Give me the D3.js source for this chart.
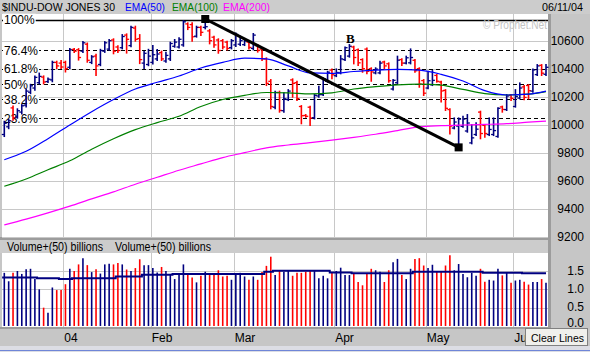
<!DOCTYPE html>
<html>
<head>
<meta charset="utf-8">
<script src="https://cdn.jsdelivr.net/npm/d3@7"></script>
<style>
  body { margin: 0; background: #c6c6c6; }
  svg { display: block; font-family: Arial, "Liberation Sans", sans-serif; }
</style>
</head>
<body>
<div id="chart"></div>
<script>
// daily bars, Dec 11 2003 .. Jun 10 2004 (index based)
const opens = [9930,9985,10120,10055,10090,10140,10232,10262,10300,10340,10308,10320,10445,10440,10445,10410,10538,10535,10525,10575,
  10445,10490,10430,10525,10540,10605,10555,10550,10640,10565,10690,10615,10440,10430,10445,10470,10515,10455,10470,10560,
  10555,10570,10720,10715,10632,10695,10695,10670,10625,10605,10600,10590,10550,10570,10575,10572,10590,10545,10565,10540,
  10470,10310,10125,10230,10100,10180,10320,10300,10130,10066,10125,10050,10205,10215,10310,10390,10350,10370,10465,10490,
  10555,10535,10465,10540,10400,10370,10370,10448,10435,10255,10300,10465,10440,10442,10460,10400,10315,10262,10285,10352,
  10305,10245,10108,9976,9990,9988,9955,9870,9930,10090,9995,9930,9930,9916,10127,10108,10210,10130,10190,10270,
  10280,10240,10358,10424,10360];
const highs = [10021,10035,10130,10110,10140,10250,10285,10345,10365,10345,10330,10450,10450,10455,10450,10540,10540,10540,10590,10580,
  10490,10500,10535,10590,10605,10610,10560,10640,10645,10700,10700,10640,10520,10535,10562,10533,10522,10514,10586,10605,
  10617,10740,10724,10724,10700,10700,10755,10676,10629,10610,10605,10593,10605,10652,10629,10605,10593,10648,10569,10545,
  10474,10319,10236,10236,10224,10247,10324,10307,10133,10069,10129,10212,10271,10331,10378,10395,10395,10490,10552,10569,
  10557,10538,10467,10545,10403,10403,10450,10450,10438,10319,10486,10467,10486,10538,10462,10403,10319,10378,10383,10355,
  10307,10247,10110,10045,10045,10057,10069,9998,10010,10093,9998,10045,10045,10117,10129,10212,10212,10247,10295,10276,
  10283,10395,10426,10426,10426];
const lows = [9919,9975,10035,10050,10080,10130,10225,10250,10295,10295,10305,10310,10405,10405,10380,10405,10520,10465,10520,10450,
  10440,10355,10425,10520,10535,10510,10520,10545,10515,10560,10600,10440,10405,10425,10438,10462,10462,10450,10462,10557,
  10552,10564,10683,10600,10629,10640,10688,10581,10557,10514,10545,10538,10545,10562,10569,10569,10545,10538,10522,10462,
  10283,10117,10117,10093,10093,10176,10200,10176,10010,10057,9998,10045,10200,10212,10307,10331,10347,10367,10462,10486,
  10438,10426,10378,10367,10314,10367,10367,10403,10307,10252,10295,10426,10438,10438,10378,10271,10212,10260,10283,10307,
  10165,10105,9938,9974,9843,9986,9950,9867,9926,9903,9914,9926,9926,9914,10093,10105,10176,10129,10188,10181,
  10188,10236,10355,10355,10355];
const closes = [10010,10028,10050,10100,10135,10240,10278,10338,10345,10305,10325,10445,10420,10412,10400,10535,10525,10480,10585,10460,
  10485,10420,10530,10585,10600,10525,10530,10630,10610,10695,10610,10465,10510,10490,10500,10505,10470,10495,10580,10590,
  10610,10735,10695,10628,10695,10660,10700,10600,10570,10530,10555,10545,10600,10645,10600,10598,10552,10640,10530,10470,
  10295,10130,10230,10102,10185,10240,10295,10186,10064,10060,10048,10210,10215,10328,10375,10357,10373,10470,10550,10560,
  10480,10442,10400,10381,10377,10397,10440,10420,10314,10317,10461,10440,10478,10480,10385,10290,10225,10314,10317,10310,
  10241,10117,9990,10019,10040,10040,10012,9906,9968,9937,9937,9966,9958,10117,10109,10205,10188,10202,10262,10195,
  10243,10391,10420,10368,10410];
// volume, billions of shares
const volumes = [1.45,1.22,1.45,1.50,1.42,1.55,1.56,1.28,1.00,0.50,0.36,1.05,0.98,0.98,1.14,1.56,1.50,1.68,1.85,1.66,
  1.47,1.55,1.43,1.68,1.70,1.68,1.72,1.68,1.54,1.50,1.58,1.82,1.66,1.66,1.58,1.46,1.61,1.50,1.42,1.28,
  1.39,1.68,1.42,1.32,1.19,1.37,1.48,1.39,1.44,1.52,1.35,1.37,1.26,1.44,1.45,1.35,1.26,1.35,1.26,1.47,
  1.64,1.89,1.39,1.50,1.48,1.50,1.37,1.45,1.45,1.48,1.50,1.52,1.30,1.37,1.30,1.45,1.50,1.59,1.39,1.39,
  1.45,1.20,1.11,1.42,1.56,1.52,1.48,1.20,1.52,1.74,1.83,1.39,1.28,1.56,1.83,1.85,1.65,1.58,1.67,1.48,
  1.48,1.65,1.93,1.52,1.69,1.42,1.33,1.45,1.37,1.56,1.21,1.26,1.24,1.56,1.38,1.45,1.18,1.24,1.26,1.21,
  1.13,1.20,1.20,1.28,1.18];
// 50 day average volume (step line)
const volAvgStart = [0, 8, 13, 16, 26, 32, 39, 60, 62, 75, 80, 94, 110, 119];
const volAvgValue = [1.32, 1.30, 1.28, 1.30, 1.35, 1.40, 1.42, 1.48, 1.51, 1.46, 1.44, 1.48, 1.45, 1.44];

// moving averages, read at every 5th bar
const emaIdx = [0,5,10,15,20,25,30,35,40,45,50,55,60,65,70,75,80,85,90,95,100,105,110,115,120,124];
const ema50 = [9750,9810,9900,9998,10093,10180,10255,10303,10348,10405,10445,10475,10470,10420,10370,10367,10380,10390,10395,10390,10360,10312,10243,10212,10218,10240];
const ema100 = [9560,9612,9678,9742,9825,9900,9965,10015,10060,10130,10180,10210,10230,10228,10220,10228,10255,10272,10285,10290,10282,10252,10222,10212,10218,10236];
const ema200 = [9284,9325,9370,9418,9470,9520,9575,9625,9675,9720,9765,9800,9835,9855,9872,9890,9910,9932,9958,9985,9993,9998,10002,10007,10018,10026];

const monthLabels = ["04", "Feb", "Mar", "Apr", "May", "Jun"];
const monthStart = [14, 34, 53, 76, 97, 117];

const priceTicks = [10600, 10400, 10200, 10000, 9800, 9600, 9400, 9200];
const volTicks = [0, 0.5, 1.0, 1.5];

// fibonacci retracement between Feb high and May low
const fibHigh = 10750, fibLow = 9830;
const fibLevels = [1, 0.764, 0.618, 0.5, 0.382, 0.236];
const fibLabels = ["100%", "76.4%", "61.8%", "50%", "38.2%", "23.6%"];

// trend line end points [bar index, price]
const trendFrom = [46, 10755];
const trendTo = [104, 9838];
const peakLabel = { idx: 79, price: 10569, text: "B" };

const W = 590, H = 352;
const upColor = '#000080', downColor = '#ff0000', gridColor = '#c8c8c8';

const svg = d3.select('#chart').append('svg')
  .attr('width', W).attr('height', H);

const x = d3.scaleLinear().domain([0, 124]).range([4.3, 546]);
const step = x(1) - x(0);
const y = d3.scaleLinear().domain([9200, 10600]).range([236.7, 40.7]);
const vy = d3.scaleLinear().domain([0, 1.5]).range([326, 271]);

// squeeze a label into the width it takes in the original
function fit(sel, w) {
  sel.attr('textLength', w).attr('lengthAdjust', 'spacingAndGlyphs');
}

// --- backgrounds ---
svg.append('rect').attr('width', W).attr('height', H).attr('fill', '#c6c6c6');
svg.append('rect').attr('x', 0).attr('y', 0).attr('width', W).attr('height', 14).attr('fill', '#cccccc');
svg.append('rect').attr('x', 548).attr('y', 14).attr('width', 3).attr('height', 314).attr('fill', '#9c9c9c');
svg.append('rect').attr('x', 0).attr('y', 237).attr('width', 551).attr('height', 3).attr('fill', '#9c9c9c');
svg.append('rect').attr('x', 0).attr('y', 240).attr('width', 548).attr('height', 13).attr('fill', '#cccccc');
svg.append('rect').attr('x', 2).attr('y', 14).attr('width', 546).attr('height', 223).attr('fill', '#ffffff');
svg.append('rect').attr('x', 2).attr('y', 253).attr('width', 546).attr('height', 74).attr('fill', '#ffffff');
svg.append('rect').attr('x', 0).attr('y', 327).attr('width', 551).attr('height', 2).attr('fill', '#9c9c9c');
svg.append('rect').attr('x', 0).attr('y', 346).attr('width', W).attr('height', 6).attr('fill', '#dcdde4');
svg.append('line').attr('x1', 0).attr('x2', W).attr('y1', 350.5).attr('y2', 350.5)
  .attr('stroke', '#6f86d8').attr('stroke-width', 1);

// --- price panel ---
const price = svg.append('g');

price.selectAll('.hgrid').data(priceTicks).join('line')
  .attr('x1', 2).attr('x2', 548)
  .attr('y1', d => Math.round(y(d)) + 0.5).attr('y2', d => Math.round(y(d)) + 0.5)
  .attr('stroke', gridColor);
price.selectAll('.vgrid').data(monthStart).join('line')
  .attr('x1', d => Math.round(x(d) - step / 2) + 0.5).attr('x2', d => Math.round(x(d) - step / 2) + 0.5)
  .attr('y1', 14).attr('y2', 237)
  .attr('stroke', gridColor);

const fibY = p => y(fibLow + p * (fibHigh - fibLow));
price.selectAll('.fib').data(fibLevels).join('line')
  .attr('x1', 2).attr('x2', 548)
  .attr('y1', d => Math.round(fibY(d)) + 0.5).attr('y2', d => Math.round(fibY(d)) + 0.5)
  .attr('stroke', '#000')
  .attr('stroke-width', d => d === 1 ? 1.5 : 1)
  .attr('stroke-dasharray', d => d === 1 ? null : '4,3');

const fibText = price.selectAll('.fibLabel').data(fibLevels).join('g');
fibText.append('rect').attr('class', 'bg').attr('fill', '#fff');
fibText.append('text')
  .attr('x', 4)
  .attr('y', d => fibY(d) + 4.5)
  .attr('font-size', 12)
  .attr('fill', '#000')
  .text((d, i) => fibLabels[i]);
fibText.each(function(d) {
  const g = d3.select(this);
  const w = g.select('text').node().getComputedTextLength();
  g.select('rect').attr('x', 3).attr('y', fibY(d) - 6).attr('width', w + 2).attr('height', 12);
});

// OHLC bars
const bars = price.selectAll('.bar').data(d3.range(opens.length)).join('g')
  .attr('stroke', i => closes[i] >= opens[i] ? upColor : downColor);
bars.append('line')
  .attr('x1', i => x(i)).attr('x2', i => x(i))
  .attr('y1', i => y(highs[i]) - 1).attr('y2', i => y(lows[i]) + 1)
  .attr('stroke-width', 1.6);
bars.append('line')
  .attr('x1', i => x(i) - 2.5).attr('x2', i => x(i))
  .attr('y1', i => y(opens[i])).attr('y2', i => y(opens[i]))
  .attr('stroke-width', 1.3);
bars.append('line')
  .attr('x1', i => x(i)).attr('x2', i => x(i) + 2.5)
  .attr('y1', i => y(closes[i])).attr('y2', i => y(closes[i]))
  .attr('stroke-width', 1.3);

// moving averages
const emaLine = d3.line().x((d, k) => x(emaIdx[k])).y(d => y(d)).curve(d3.curveMonotoneX);
[[ema200, '#ff00ff'], [ema100, '#008000'], [ema50, '#0000ff']].forEach(([vals, col]) => {
  price.append('path').datum(vals)
    .attr('d', emaLine)
    .attr('fill', 'none')
    .attr('stroke', col)
    .attr('stroke-width', 1.2);
});

// trend line with end markers
price.append('line')
  .attr('x1', x(trendFrom[0])).attr('y1', y(trendFrom[1]))
  .attr('x2', x(trendTo[0])).attr('y2', y(trendTo[1]))
  .attr('stroke', '#000').attr('stroke-width', 3);
price.selectAll('.marker').data([trendFrom, trendTo]).join('rect')
  .attr('x', d => x(d[0]) - 4).attr('y', d => y(d[1]) - 4)
  .attr('width', 8).attr('height', 8)
  .attr('fill', '#000');

price.append('text')
  .attr('x', x(peakLabel.idx) + 1)
  .attr('y', y(peakLabel.price) - 2)
  .attr('text-anchor', 'middle')
  .attr('font-family', '"Liberation Serif", "DejaVu Serif", serif')
  .attr('font-weight', 'bold')
  .attr('font-size', 13)
  .text(peakLabel.text);

price.append('text')
  .attr('x', 483).attr('y', 29)
  .attr('font-size', 12)
  .attr('fill', '#c4c4c4')
  .text('\u00A9 Prophet.Net')
  .call(fit, 64);

// price axis
svg.selectAll('.pLabel').data(priceTicks).join('text')
  .attr('x', 584).attr('y', d => y(d) + 4.5)
  .attr('text-anchor', 'end')
  .attr('font-size', 12)
  .attr('fill', '#000')
  .text(d => d);

// header
const headerText = ['$INDU-DOW JONES 30', 'EMA(50)', 'EMA(100)', 'EMA(200)'];
const headerColor = ['#000', '#0000ff', '#008000', '#ff00ff'];
const headerX = [2, 125, 172, 223];
const headerW = [113, 40, 46, 47];
svg.selectAll('.hdr').data(headerText).join('text')
  .attr('x', (d, i) => headerX[i]).attr('y', 11)
  .attr('font-size', 11)
  .attr('fill', (d, i) => headerColor[i])
  .attr('textLength', (d, i) => headerW[i])
  .attr('lengthAdjust', 'spacingAndGlyphs')
  .text(d => d);
svg.append('text')
  .attr('x', 542).attr('y', 11)
  .attr('font-size', 11.5)
  .text('06/11/04')
  .call(fit, 41);

// --- volume panel ---
const vol = svg.append('g');
vol.selectAll('.vh').data(volTicks.slice(1)).join('line')
  .attr('x1', 2).attr('x2', 548)
  .attr('y1', d => Math.round(vy(d)) + 0.5).attr('y2', d => Math.round(vy(d)) + 0.5)
  .attr('stroke', gridColor);
vol.selectAll('.vv').data(monthStart).join('line')
  .attr('x1', d => Math.round(x(d) - step / 2) + 0.5).attr('x2', d => Math.round(x(d) - step / 2) + 0.5)
  .attr('y1', 253).attr('y2', 327)
  .attr('stroke', gridColor);

vol.selectAll('.vbar').data(volumes).join('line')
  .attr('x1', (d, i) => x(i)).attr('x2', (d, i) => x(i))
  .attr('y1', d => vy(d)).attr('y2', vy(0))
  .attr('stroke', (d, i) => closes[i] >= opens[i] ? upColor : downColor)
  .attr('stroke-width', 1.6);

const avgPts = [];
volAvgStart.forEach((s, k) => {
  const e = k < volAvgStart.length - 1 ? volAvgStart[k + 1] : 124.5;
  avgPts.push([x(s) - step / 2, vy(volAvgValue[k])]);
  avgPts.push([x(e) - step / 2, vy(volAvgValue[k])]);
});
vol.append('path')
  .attr('d', d3.line()(avgPts))
  .attr('fill', 'none')
  .attr('stroke', upColor)
  .attr('stroke-width', 2);

svg.selectAll('.vLabel').data(volTicks).join('text')
  .attr('x', 584).attr('y', d => vy(d) + (d === 0 ? 1 : 3.5))
  .attr('text-anchor', 'end')
  .attr('font-size', 12)
  .text(d => d.toFixed(1));

svg.selectAll('.vhdr').data(['Volume+(50) billions', 'Volume+(50) billions']).join('text')
  .attr('x', (d, i) => i === 0 ? 7 : 115).attr('y', 251)
  .attr('font-size', 12)
  .attr('textLength', 96)
  .attr('lengthAdjust', 'spacingAndGlyphs')
  .text(d => d);

// month labels
svg.selectAll('.mLabel').data(monthLabels).join('text')
  .attr('x', (d, i) => x(monthStart[i]) - step / 2 + 1)
  .attr('y', 342)
  .attr('font-size', 12)
  .text(d => d);

// "Clear Lines" button, drawn over the last month label as in the original
const btn = svg.append('g');
btn.append('rect').attr('x', 525.5).attr('y', 328.5).attr('width', 62).attr('height', 17)
  .attr('fill', '#f0f0ec').attr('stroke', '#808080');
btn.append('text').attr('x', 531).attr('y', 341.5)
  .attr('font-size', 11)
  .text('Clear Lines')
  .call(fit, 53);
</script>
</body>
</html>
